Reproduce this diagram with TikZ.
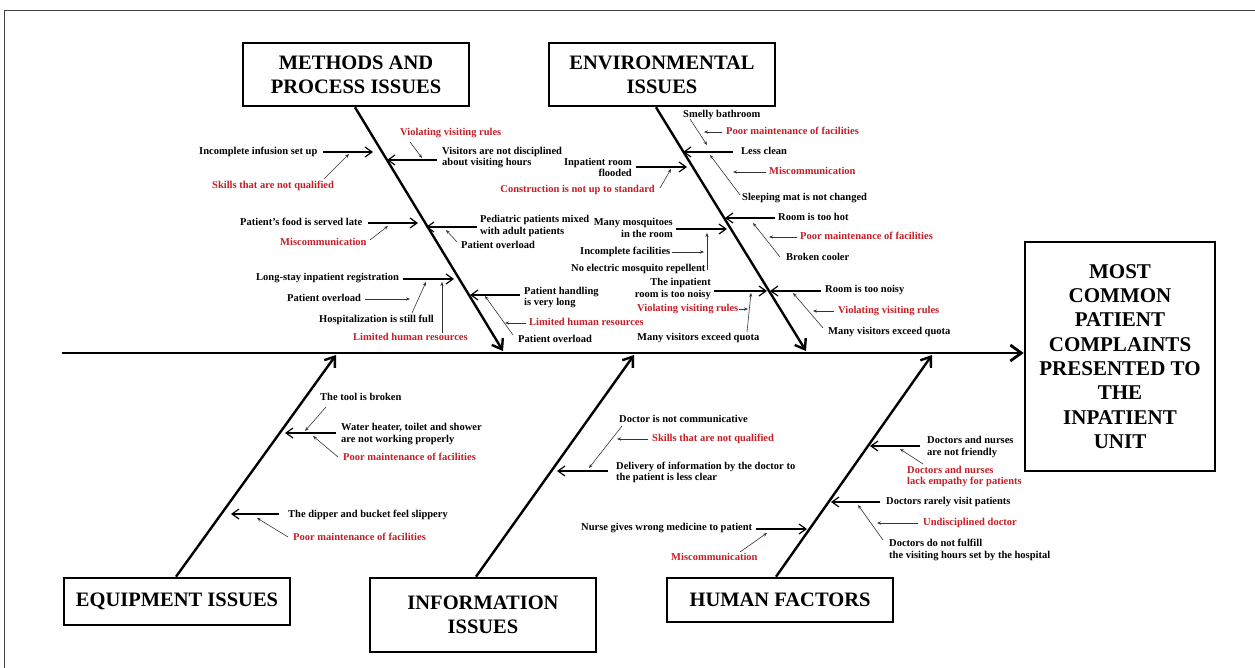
\documentclass[tikz,border=0pt]{standalone}
\usepackage{fontspec}
\setmainfont{Liberation Serif}
\usetikzlibrary{arrows.meta}
\definecolor{cred}{RGB}{196,30,38}
\begin{document}
\begin{tikzpicture}[x=1pt,y=-1pt,
  catbox/.style={draw, line width=2.6pt, fill=white, inner sep=0pt, align=center,
    font=\fontsize{20.5}{24}\selectfont\bfseries, minimum width=226pt},
  txt/.style={inner sep=0pt, text height=7.3pt, text depth=2.2pt,
    font=\fontsize{10.5}{11.8}\selectfont\bfseries, text=black},
  rtxt/.style={txt, text=cred},
  bone/.style={line width=2.4pt, -{Straight Barb[length=9pt,width=13pt]}},
  spine/.style={line width=2.8pt, -{Straight Barb[length=11pt,width=16pt]}},
  cause/.style={line width=1.2pt, -{Straight Barb[length=7pt,width=10pt]}},
  sub/.style={line width=0.6pt, black!80, -{Stealth[length=4pt,width=3.2pt]}}
]
\useasboundingbox (0,0) rectangle (1255,668);
% frame
\coordinate (fr1) at (4,668); \coordinate (fr2) at (4,10.5); \coordinate (fr3) at (1255,10.5);
\draw[line width=1pt, black!75] (fr1) -- (fr2) -- (fr3);

% category boxes
\node[catbox, minimum height=63pt] (mp) at (356,74.5) {METHODS AND\\PROCESS ISSUES};
\node[catbox, minimum height=63pt] (env) at (662,74.5) {ENVIRONMENTAL\\ISSUES};
\node[catbox, minimum height=47pt] (eq) at (177,601.5) {EQUIPMENT ISSUES};
\node[catbox, minimum height=74pt] (inf) at (483,615) {INFORMATION\\ISSUES};
\node[catbox, minimum height=44pt] (hum) at (780,600) {HUMAN FACTORS};
\node[draw, line width=2.6pt, inner sep=0pt, align=center, minimum width=190pt, minimum height=229pt,
  font=\fontsize{21}{24.3}\selectfont\bfseries] (eff) at (1120,356.5)
  {MOST\\COMMON\\PATIENT\\COMPLAINTS\\PRESENTED TO\\THE\\INPATIENT\\UNIT};

% spine and bones
\coordinate (sp0) at (62,353);
\draw[spine] (sp0) -- (eff.west |- sp0);
\coordinate (mpE) at (503,351); \coordinate (envE) at (806,351);
\coordinate (eqE) at (336,355); \coordinate (infE) at (634,355); \coordinate (humE) at (932,355);
\draw[bone] ([xshift=-1pt]mp.south) -- (mpE);
\draw[bone] ([xshift=-6pt]env.south) -- (envE);
\draw[bone] ([xshift=-1pt]eq.north) -- (eqE);
\draw[bone] ([xshift=-7pt]inf.north) -- (infE);
\draw[bone] ([xshift=-4pt]hum.north) -- (humE);

% ---------------- METHODS AND PROCESS ISSUES ----------------
\node[txt, anchor=west] (mp1) at (199,152) {Incomplete infusion set up};
\node[rtxt, anchor=west] (mp1r) at (212,186) {Skills that are not qualified};
\node[rtxt, anchor=west] (mp2r) at (400,133) {Violating visiting rules};
\node[txt, anchor=west, align=left, text height=, text depth=] (mp2) at (442,157.5) {Visitors are not disciplined\\about visiting hours};
\node[txt, anchor=west] (mp3) at (240,223) {Patient's food is served late};
\node[rtxt, anchor=west] (mp3r) at (280,243) {Miscommunication};
\node[txt, anchor=west, align=left, text height=, text depth=] (mp4) at (480,226) {Pediatric patients mixed\\with adult patients};
\node[txt, anchor=west] (mp4s) at (461,246) {Patient overload};
\node[txt, anchor=west] (mp5) at (256,278) {Long-stay inpatient registration};
\node[txt, anchor=west] (mp5a) at (287,299) {Patient overload};
\node[txt, anchor=west] (mp5b) at (319,320) {Hospitalization is still full};
\node[rtxt, anchor=west] (mp5r) at (353,338) {Limited human resources};
\node[txt, anchor=west, align=left, text height=, text depth=] (mp6) at (524,297.5) {Patient handling\\is very long};
\node[rtxt, anchor=west] (mp6r) at (529,323) {Limited human resources};
\node[txt, anchor=west] (mp6s) at (518,340) {Patient overload};

\path (323,152) coordinate (a1s) (373,152) coordinate (a1e)
      (324,179) coordinate (b1s) (349,154) coordinate (b1e)
      (410,142) coordinate (b2s) (422,158) coordinate (b2e)
      (437,160) coordinate (a2s) (387,160) coordinate (a2e)
      (368,223) coordinate (a3s) (418,223) coordinate (a3e)
      (370,240) coordinate (b3s) (388,226) coordinate (b3e)
      (477,227) coordinate (a4s) (426,227) coordinate (a4e)
      (457,242) coordinate (b4s) (446,230) coordinate (b4e)
      (403,279) coordinate (a5s) (454,279) coordinate (a5e)
      (365,299) coordinate (b5s) (410,299) coordinate (b5e)
      (412,313) coordinate (b6s) (426,282) coordinate (b6e)
      (442,333) coordinate (b7s) (442,282) coordinate (b7e)
      (520,295) coordinate (a6s) (470,295) coordinate (a6e)
      (526,323) coordinate (b8s) (505,323) coordinate (b8e)
      (513,335) coordinate (b9s) (485,296) coordinate (b9e);
\draw[cause] (a1s) -- (a1e); \draw[cause] (a2s) -- (a2e); \draw[cause] (a3s) -- (a3e);
\draw[cause] (a4s) -- (a4e); \draw[cause] (a5s) -- (a5e); \draw[cause] (a6s) -- (a6e);
\draw[sub] (b1s) -- (b1e); \draw[sub] (b2s) -- (b2e); \draw[sub] (b3s) -- (b3e);
\draw[sub] (b4s) -- (b4e); \draw[sub] (b5s) -- (b5e); \draw[sub] (b6s) -- (b6e);
\draw[sub] (b7s) -- (b7e); \draw[sub] (b8s) -- (b8e); \draw[sub] (b9s) -- (b9e);

% ---------------- ENVIRONMENTAL ISSUES ----------------
\node[txt, anchor=west] (en1) at (683,115) {Smelly bathroom};
\node[rtxt, anchor=west] (en1r) at (726,132) {Poor maintenance of facilities};
\node[txt, anchor=west] (en2) at (741,152) {Less clean};
\node[txt, anchor=east, align=right, text height=, text depth=] (en3) at (632,167.5) {Inpatient room\\flooded};
\node[rtxt, anchor=east] (en3r) at (655,190) {Construction is not up to standard};
\node[rtxt, anchor=west] (en4r) at (769,172) {Miscommunication};
\node[txt, anchor=west] (en4) at (742,198) {Sleeping mat is not changed};
\node[txt, anchor=west] (en5) at (778,218) {Room is too hot};
\node[rtxt, anchor=west] (en5r) at (800,237) {Poor maintenance of facilities};
\node[txt, anchor=west] (en6) at (786,258) {Broken cooler};
\node[txt, anchor=east, align=right, text height=, text depth=] (en7) at (673,228) {Many mosquitoes\\in the room};
\node[txt, anchor=west] (en8) at (580,252) {Incomplete facilities};
\node[txt, anchor=west] (en9) at (571,269) {No electric mosquito repellent};
\node[txt, anchor=east, align=right, text height=, text depth=] (en10) at (711,289) {The inpatient\\room is too noisy};
\node[rtxt, anchor=west] (en10r) at (637,309) {Violating visiting rules};
\node[txt, anchor=west] (en11) at (637,338) {Many visitors exceed quota};
\node[txt, anchor=west] (en12) at (825,290) {Room is too noisy};
\node[rtxt, anchor=west] (en12r) at (838,311) {Violating visiting rules};
\node[txt, anchor=west] (en13) at (828,332) {Many visitors exceed quota};

\path (733,152) coordinate (c1s) (683,152) coordinate (c1e)
      (636,167) coordinate (c2s) (687,167) coordinate (c2e)
      (775,218) coordinate (c3s) (725,218) coordinate (c3e)
      (676,229) coordinate (c4s) (727,229) coordinate (c4e)
      (714,291) coordinate (c5s) (767,291) coordinate (c5e)
      (821,291) coordinate (c6s) (770,291) coordinate (c6e)
      (690,119) coordinate (d1s) (707,145) coordinate (d1e)
      (722,132) coordinate (d2s) (704,132) coordinate (d2e)
      (660,188) coordinate (d3s) (671,169) coordinate (d3e)
      (766,172) coordinate (d4s) (733,172) coordinate (d4e)
      (740,195) coordinate (d5s) (710,155) coordinate (d5e)
      (797,237) coordinate (d6s) (769,237) coordinate (d6e)
      (780,257) coordinate (d7s) (753,223) coordinate (d7e)
      (672,252) coordinate (d8s) (704,252) coordinate (d8e)
      (707,270) coordinate (d9s) (707,233) coordinate (d9e)
      (739,309) coordinate (d10s) (748,309) coordinate (d10e)
      (747,332) coordinate (d11s) (751,293) coordinate (d11e)
      (834,311) coordinate (d12s) (813,311) coordinate (d12e)
      (823,328) coordinate (d13s) (793,293) coordinate (d13e);
\draw[cause] (c1s) -- (c1e); \draw[cause] (c2s) -- (c2e); \draw[cause] (c3s) -- (c3e);
\draw[cause] (c4s) -- (c4e); \draw[cause] (c5s) -- (c5e); \draw[cause] (c6s) -- (c6e);
\draw[sub] (d1s) -- (d1e); \draw[sub] (d2s) -- (d2e); \draw[sub] (d3s) -- (d3e);
\draw[sub] (d4s) -- (d4e); \draw[sub] (d5s) -- (d5e); \draw[sub] (d6s) -- (d6e);
\draw[sub] (d7s) -- (d7e); \draw[sub] (d8s) -- (d8e); \draw[sub] (d9s) -- (d9e);
\draw[sub] (d10s) -- (d10e); \draw[sub] (d11s) -- (d11e); \draw[sub] (d12s) -- (d12e);
\draw[sub] (d13s) -- (d13e);

% ---------------- EQUIPMENT ISSUES ----------------
\node[txt, anchor=west] (eq1) at (320,398) {The tool is broken};
\node[txt, anchor=west, align=left, text height=, text depth=] (eq2) at (341,434) {Water heater, toilet and shower\\are not working properly};
\node[rtxt, anchor=west] (eq2r) at (343,458) {Poor maintenance of facilities};
\node[txt, anchor=west] (eq3) at (288,515) {The dipper and bucket feel slippery};
\node[rtxt, anchor=west] (eq3r) at (293,538) {Poor maintenance of facilities};
\path (336,433) coordinate (e1s) (285,433) coordinate (e1e)
      (279,514) coordinate (e2s) (231,514) coordinate (e2e)
      (326,407) coordinate (f1s) (305,431) coordinate (f1e)
      (338,457) coordinate (f2s) (313,436) coordinate (f2e)
      (288,537) coordinate (f3s) (257,518) coordinate (f3e);
\draw[cause] (e1s) -- (e1e); \draw[cause] (e2s) -- (e2e);
\draw[sub] (f1s) -- (f1e); \draw[sub] (f2s) -- (f2e); \draw[sub] (f3s) -- (f3e);

% ---------------- INFORMATION ISSUES ----------------
\node[txt, anchor=west] (in1) at (619,420) {Doctor is not communicative};
\node[rtxt, anchor=west] (in1r) at (652,439) {Skills that are not qualified};
\node[txt, anchor=west, align=left, text height=, text depth=] (in2) at (616,472.5) {Delivery of information by the doctor to\\the patient is less clear};
\path (608,471) coordinate (g1s) (557,471) coordinate (g1e)
      (622,426) coordinate (h1s) (589,468) coordinate (h1e)
      (648,439) coordinate (h2s) (617,439) coordinate (h2e);
\draw[cause] (g1s) -- (g1e);
\draw[sub] (h1s) -- (h1e); \draw[sub] (h2s) -- (h2e);

% ---------------- HUMAN FACTORS ----------------
\node[txt, anchor=west, align=left, text height=, text depth=] (hu1) at (927,447) {Doctors and nurses\\are not friendly};
\node[rtxt, anchor=west, align=left, text height=, text depth=] (hu1r) at (907,476.5) {Doctors and nurses\\lack empathy for patients};
\node[txt, anchor=west] (hu2) at (886,502) {Doctors rarely visit patients};
\node[rtxt, anchor=west] (hu2r) at (923,523) {Undisciplined doctor};
\node[txt, anchor=west, align=left, text height=, text depth=] (hu3) at (889,550) {Doctors do not fulfill\\the visiting hours set by the hospital};
\node[txt, anchor=west] (hu4) at (581,528) {Nurse gives wrong medicine to patient};
\node[rtxt, anchor=west] (hu4r) at (671,558) {Miscommunication};
\path (920,446) coordinate (k1s) (870,446) coordinate (k1e)
      (880,502) coordinate (k2s) (831,502) coordinate (k2e)
      (756,529) coordinate (k3s) (807,529) coordinate (k3e)
      (923,464) coordinate (l1s) (900,449) coordinate (l1e)
      (918,523) coordinate (l2s) (877,523) coordinate (l2e)
      (883,540) coordinate (l3s) (858,505) coordinate (l3e)
      (740,552) coordinate (l4s) (767,533) coordinate (l4e);
\draw[cause] (k1s) -- (k1e); \draw[cause] (k2s) -- (k2e); \draw[cause] (k3s) -- (k3e);
\draw[sub] (l1s) -- (l1e); \draw[sub] (l2s) -- (l2e); \draw[sub] (l3s) -- (l3e); \draw[sub] (l4s) -- (l4e);
\end{tikzpicture}
\end{document}
